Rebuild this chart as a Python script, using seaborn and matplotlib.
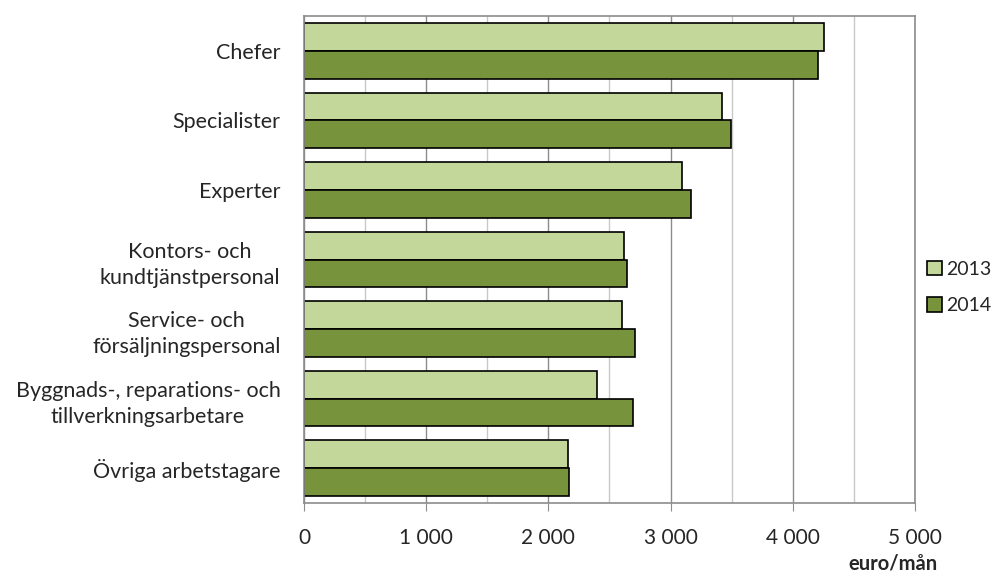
import pandas as pd
import matplotlib.pyplot as plt
import seaborn as sns

categories = [
    "Chefer",
    "Specialister",
    "Experter",
    "Kontors- och\nkundtjänstpersonal",
    "Service- och\nförsäljningspersonal",
    "Byggnads-, reparations- och\ntillverkningsarbetare",
    "Övriga arbetstagare",
]
values_2013 = [4256, 3417, 3091, 2621, 2605, 2398, 2159]
values_2014 = [4207, 3492, 3165, 2647, 2706, 2696, 2172]
years = ["2013", "2014"]
colors = ["#C4D79B", "#77933C"]

df = pd.DataFrame({
    "Yrke": categories * 2,
    "År": [years[0]] * len(categories) + [years[1]] * len(categories),
    "Lön": values_2013 + values_2014,
})

sns.set_style("white")
plt.rcParams["font.family"] = ["Lato", "DejaVu Sans"]
fs = 15

fig = plt.figure(figsize=(9.98, 5.77), dpi=100)
ax = fig.add_axes([0.3046, 0.1282, 0.6122, 0.8441])

sns.barplot(data=df, x="Lön", y="Yrke", hue="År", palette=colors, orient="h",
            width=0.8, edgecolor="black", linewidth=1.2, ax=ax, saturation=1)

ax.set_xlim(0, 5000)
ax.set_ylim(6.5, -0.5)
ax.set_xticks(range(0, 5001, 1000))
ax.set_xticklabels([f"{v:,}".replace(",", " ") for v in range(0, 5001, 1000)], fontsize=fs)
ax.set_xticks(range(500, 5000, 1000), minor=True)
ax.grid(axis="x", which="major", color="#8c8c8c", linewidth=1)
ax.grid(axis="x", which="minor", color="#c8c8c8", linewidth=1)
ax.set_axisbelow(True)
ax.tick_params(axis="x", which="major", length=6, color="#8c8c8c", pad=12, direction="out", bottom=True)
ax.tick_params(axis="y", length=0, pad=17)
for lbl in ax.get_yticklabels():
    lbl.set_fontsize(15.5)
    lbl.set_multialignment("center")
    lbl.set_linespacing(1.4)
for side in ["left", "right", "top", "bottom"]:
    ax.spines[side].set_visible(True)
    ax.spines[side].set_color("#8c8c8c")
    ax.spines[side].set_linewidth(1.2)
ax.set_xlabel("")
ax.set_ylabel("")

ax.legend(title=None, loc="upper left", bbox_to_anchor=(0.929, 0.548), bbox_transform=fig.transFigure,
          frameon=False, fontsize=14, handlelength=0.75, handleheight=0.75, handletextpad=0.25,
          labelspacing=1.0, borderaxespad=0, borderpad=0)

fig.text(0.939, 0.006, "euro/mån", ha="right", va="bottom", fontsize=fs - 0.5, fontweight="bold")

fig.savefig("out.png", dpi=100)
